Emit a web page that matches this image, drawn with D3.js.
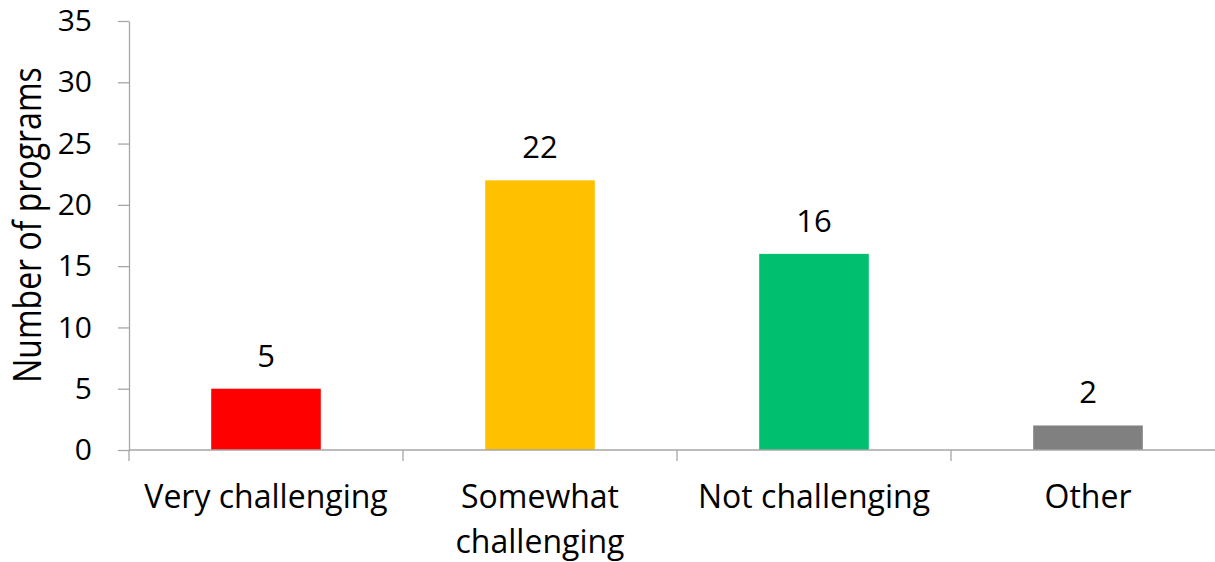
<!DOCTYPE html>
<html>
<head>
<meta charset="utf-8">
<script src="https://cdn.jsdelivr.net/npm/d3@7"></script>
<style>
  html, body { margin: 0; padding: 0; background: #fff; }
  svg { display: block; }
  text { font-family: "Open Sans", "Noto Sans", sans-serif; fill: #000; }
</style>
</head>
<body>
<svg id="chart" width="1215" height="562"></svg>
<script>
// Survey responses: how challenging programs found the task
const categories = ["Very challenging", "Somewhat challenging", "Not challenging", "Other"];
const counts = [5, 22, 16, 2];
const barColors = ["#FF0000", "#FFC000", "#00BF6F", "#808080"];
const yTicks = [0, 5, 10, 15, 20, 25, 30, 35];
const yTitle = "Number of programs";

const svg = d3.select("#chart");
const fontSize = 32;
const numberSize = 30;
const axisColor = "#A6A6A6";

const plot = { left: 129, right: 1225, top: 21, bottom: 450 };

const x = d3.scaleBand()
  .domain(categories)
  .range([plot.left, plot.right])
  .paddingInner(0.6)
  .paddingOuter(0.3);

const y = d3.scaleLinear()
  .domain([0, 35])
  .range([plot.bottom, plot.top]);

// Bars
svg.append("g")
  .selectAll("rect")
  .data(categories)
  .join("rect")
  .attr("x", d => x(d))
  .attr("y", (d, i) => y(counts[i]))
  .attr("width", x.bandwidth())
  .attr("height", (d, i) => y(0) - y(counts[i]))
  .attr("fill", (d, i) => barColors[i]);

// Value labels
svg.append("g")
  .selectAll("text")
  .data(categories)
  .join("text")
  .attr("x", d => x(d) + x.bandwidth() / 2)
  .attr("y", (d, i) => y(counts[i]) - 22)
  .attr("text-anchor", "middle")
  .attr("font-size", 31)
  .text((d, i) => counts[i]);

// Y axis
const yAxis = svg.append("g")
  .attr("transform", `translate(${plot.left},0)`)
  .call(d3.axisLeft(y).tickValues(yTicks).tickSize(11).tickPadding(26).tickSizeOuter(0));
yAxis.select(".domain").attr("stroke", axisColor).attr("stroke-width", 1.3);
yAxis.selectAll(".tick line").attr("stroke", axisColor).attr("stroke-width", 1.3);
yAxis.selectAll(".tick text")
  .attr("font-size", numberSize)
  .attr("font-family", "'Open Sans', sans-serif")
  .attr("fill", "#000");

// X axis: ticks on the category boundaries
const step = x.step();
const edges = d3.range(categories.length + 1).map(i => plot.left + i * step);

const xAxis = svg.append("g");
xAxis.append("line")
  .attr("x1", plot.left).attr("x2", plot.right)
  .attr("y1", plot.bottom).attr("y2", plot.bottom)
  .attr("stroke", axisColor).attr("stroke-width", 1.3);
xAxis.selectAll("line.tick")
  .data(edges)
  .join("line")
  .attr("class", "tick")
  .attr("x1", d => d).attr("x2", d => d)
  .attr("y1", plot.bottom).attr("y2", plot.bottom + 11)
  .attr("stroke", axisColor).attr("stroke-width", 1.3);

// Category labels, wrapped to the band step
const catLabels = xAxis.selectAll("text.cat")
  .data(categories)
  .join("text")
  .attr("class", "cat")
  .attr("x", d => x(d) + x.bandwidth() / 2)
  .attr("y", 508)
  .attr("text-anchor", "middle")
  .attr("font-size", fontSize)
  .text(d => d);

catLabels.each(function(d) {
  const t = d3.select(this);
  if (this.getComputedTextLength() <= step * 0.97) return;
  const words = d.split(" ");
  const cx = t.attr("x");
  t.text(null);
  words.forEach((w, i) => {
    t.append("tspan").attr("x", cx).attr("dy", i === 0 ? 0 : 45).text(w);
  });
});

// Y axis title
svg.append("text")
  .attr("transform", "translate(41,225) rotate(-90) scale(1,1.18)")
  .attr("text-anchor", "middle")
  .attr("font-size", fontSize)
  .text(yTitle);
</script>
</body>
</html>
